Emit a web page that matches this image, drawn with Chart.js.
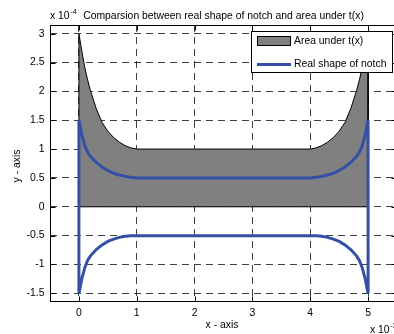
<!DOCTYPE html>
<html>
<head>
<meta charset="utf-8">
<script src="https://cdn.jsdelivr.net/npm/chart.js@4.4.1/dist/chart.umd.min.js"></script>
<style>
  html, body { margin: 0; padding: 0; background: #fff; overflow: hidden; }
  #wrap { width: 400px; height: 334px; }
</style>
</head>
<body>
<div id="wrap"><canvas id="c" width="400" height="334"></canvas></div>
<script>
// x in units of 1e-3, y in units of 1e-4 (as shown on the axes)
const xs = [0, 0.05, 0.1, 0.15, 0.2, 0.3, 0.4, 0.5, 0.6, 0.7, 0.8, 0.9, 1, 2, 3, 4, 4.1, 4.2, 4.3, 4.4, 4.5, 4.6, 4.7, 4.8, 4.85, 4.9, 4.95, 5];
const areaTop = [3, 2.7, 2.42, 2.2, 2.01, 1.7, 1.46, 1.31, 1.2, 1.12, 1.06, 1.02, 1, 1, 1, 1, 1.02, 1.06, 1.12, 1.2, 1.31, 1.46, 1.7, 2.01, 2.2, 2.42, 2.7, 3];
const notchUpper = [1.5, 1.25, 1.06, 0.95, 0.87, 0.77, 0.69, 0.63, 0.58, 0.55, 0.53, 0.51, 0.5, 0.5, 0.5, 0.5, 0.51, 0.53, 0.55, 0.58, 0.63, 0.69, 0.77, 0.87, 0.95, 1.06, 1.25, 1.5];
const notchLower = [-1.5, -1.25, -1.06, -0.93, -0.85, -0.74, -0.66, -0.6, -0.56, -0.53, -0.51, -0.5, -0.5, -0.5, -0.5, -0.5, -0.5, -0.51, -0.53, -0.56, -0.6, -0.66, -0.74, -0.85, -0.93, -1.06, -1.25, -1.5];

const xTicks = [0, 1, 2, 3, 4, 5];
const xTickLabels = ['0', '1', '2', '3', '4', '5'];
const yTicks = [-1.5, -1, -0.5, 0, 0.5, 1, 1.5, 2, 2.5, 3];
const yTickLabels = ['-1.5', '-1', '-0.5', '0', '0.5', '1', '1.5', '2', '2.5', '3'];

const titleText = 'Comparsion between real shape of notch and area under t(x)';
const legendLabels = ['Area under t(x)', 'Real shape of notch'];

const FONT = '"Liberation Sans", Arial, sans-serif';
const gray = 'rgb(128,128,128)';
const blue = '#3350a6';

// area polygon: down to zero at both ends
const areaPoints = [{x: xs[0], y: 0}]
  .concat(xs.map((x, i) => ({x: x, y: areaTop[i]})))
  .concat([{x: xs[xs.length - 1], y: 0}]);

// closed notch outline
const notchPoints = [{x: xs[0], y: notchLower[0]}]
  .concat(xs.map((x, i) => ({x: x, y: notchUpper[i]})))
  .concat(xs.map((x, i) => ({x: x, y: notchLower[i]})).reverse());

const decor = {
  id: 'decor',
  afterDraw(chart) {
    const ctx = chart.ctx;
    const a = chart.chartArea;
    const sx = chart.scales.x, sy = chart.scales.y;
    const L = Math.round(a.left) + 0.5, R = Math.round(a.right) - 0.5;
    const T = Math.round(a.top) + 0.5, B = Math.round(a.bottom) - 0.5;
    ctx.save();
    ctx.strokeStyle = '#000';
    ctx.lineWidth = 1;
    ctx.strokeRect(L, T, R - L, B - T);
    // inward ticks
    ctx.beginPath();
    xTicks.forEach(v => {
      const px = Math.round(sx.getPixelForValue(v)) + 0.5;
      ctx.moveTo(px, B); ctx.lineTo(px, B - 5);
      ctx.moveTo(px, T); ctx.lineTo(px, T + 5);
    });
    yTicks.forEach(v => {
      const py = Math.round(sy.getPixelForValue(v)) + 0.5;
      ctx.moveTo(L, py); ctx.lineTo(L + 5, py);
      ctx.moveTo(R, py); ctx.lineTo(R - 5, py);
    });
    ctx.stroke();

    ctx.fillStyle = '#000';
    ctx.font = '10.4px ' + FONT;
    ctx.textBaseline = 'alphabetic';
    ctx.textAlign = 'center';
    ctx.fillText(titleText, (a.left + a.right) / 2, 18.5);
    ctx.fillText('x - axis', 222, 328);

    ctx.textAlign = 'left';
    ctx.fillText('x 10', 50, 18.5);
    ctx.fillText('x 10', 370, 333);
    ctx.font = '7px ' + FONT;
    ctx.fillText('-4', 70.5, 13.5);
    ctx.fillText('-3', 390.5, 328);

    ctx.save();
    ctx.font = '10.4px ' + FONT;
    ctx.translate(17.5, 166);
    ctx.rotate(-Math.PI / 2);
    ctx.textAlign = 'center';
    ctx.textBaseline = 'middle';
    ctx.fillText('y - axis', 0, 0);
    ctx.restore();

    // legend
    ctx.fillStyle = '#fff';
    ctx.fillRect(251.5, 31.5, 141, 41);
    ctx.strokeRect(251.5, 31.5, 141, 41);
    ctx.fillStyle = gray;
    ctx.fillRect(257.5, 36.5, 33, 9);
    ctx.strokeRect(257.5, 36.5, 33, 9);
    ctx.strokeStyle = blue;
    ctx.lineWidth = 3;
    ctx.beginPath();
    ctx.moveTo(257, 64.5); ctx.lineTo(291, 64.5);
    ctx.stroke();
    ctx.fillStyle = '#000';
    ctx.font = '10.4px ' + FONT;
    ctx.textAlign = 'left';
    ctx.textBaseline = 'middle';
    ctx.fillText(legendLabels[0], 294, 41);
    ctx.fillText(legendLabels[1], 294, 64.5);
    ctx.restore();
  }
};

const gridOpts = { color: 'rgba(0,0,0,0.75)', lineWidth: 1, drawTicks: false };
const tickFont = { family: FONT, size: 10.4 };

new Chart(document.getElementById('c').getContext('2d'), {
  type: 'line',
  data: {
    datasets: [
      {
        label: legendLabels[0],
        data: areaPoints,
        fill: 'origin',
        backgroundColor: gray,
        borderColor: '#000',
        borderWidth: 1,
        pointRadius: 0,
        order: 3
      },
      {
        label: 'base',
        data: [{x: xs[0], y: 0}, {x: xs[xs.length - 1], y: 0}],
        fill: false,
        borderColor: '#000',
        borderWidth: 1,
        pointRadius: 0,
        order: 2
      },
      {
        label: legendLabels[1],
        data: notchPoints,
        fill: false,
        borderColor: blue,
        borderWidth: 3,
        pointRadius: 0,
        order: 1
      }
    ]
  },
  options: {
    responsive: false,
    animation: false,
    events: [],
    layout: { padding: { top: 25, right: 3, left: 0, bottom: 0 } },
    plugins: { legend: { display: false }, tooltip: { enabled: false } },
    scales: {
      x: {
        type: 'linear',
        min: -0.5,
        max: 5.5,
        afterBuildTicks: s => { s.ticks = xTicks.map(v => ({ value: v })); },
        afterFit: s => { s.height = 32; },
        grid: gridOpts,
        border: { display: false, dash: [7, 5] },
        ticks: {
          padding: 5, color: '#000', font: tickFont, maxRotation: 0, autoSkip: false,
          callback: (v, i) => xTickLabels[i]
        }
      },
      y: {
        type: 'linear',
        min: -1.65,
        max: 3.15,
        afterBuildTicks: s => { s.ticks = yTicks.map(v => ({ value: v })); },
        afterFit: s => { s.width = 50; },
        grid: gridOpts,
        border: { display: false, dash: [7, 5] },
        ticks: {
          padding: 5.5, color: '#000', font: tickFont, autoSkip: false,
          callback: (v, i) => yTickLabels[i]
        }
      }
    }
  },
  plugins: [decor]
});
</script>
</body>
</html>
